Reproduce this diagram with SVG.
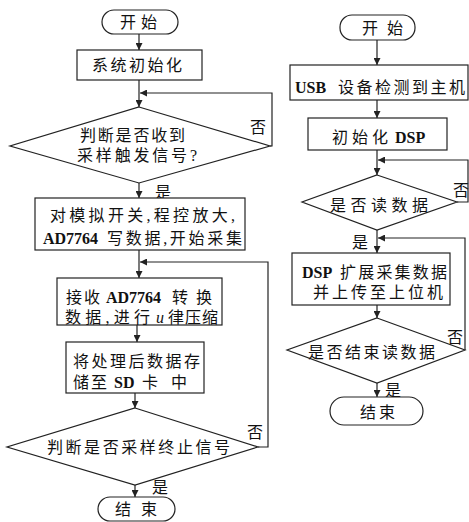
<svg xmlns="http://www.w3.org/2000/svg" width="469" height="522" viewBox="0 0 469 522">
<style>
.n{fill:#fff;stroke:#222;stroke-width:1.2}
.c{fill:none;stroke:#222;stroke-width:1.2}
text{font-family:"Liberation Serif","Noto Sans CJK SC",serif;font-size:16px;fill:#111}
.b{font-weight:bold}
.m{text-anchor:middle}
</style>
<defs>
<marker id="ah" viewBox="0 0 8 8" refX="8" refY="4" markerWidth="7" markerHeight="7" markerUnits="userSpaceOnUse" orient="auto">
<path d="M0,0 L8,4 L0,8 Z" fill="#222"/>
</marker>
</defs>
<rect width="469" height="522" fill="#fff"/>
<g id="connectors">
<line class="c" x1="139" y1="34" x2="139" y2="50" marker-end="url(#ah)"/>
<line class="c" x1="139" y1="80" x2="139" y2="107" marker-end="url(#ah)"/>
<path class="c" d="M270,146 H272 V93 H140" marker-end="url(#ah)"/>
<line class="c" x1="139" y1="183" x2="139" y2="198" marker-end="url(#ah)"/>
<line class="c" x1="139" y1="250" x2="139" y2="278" marker-end="url(#ah)"/>
<path class="c" d="M258,447 H268 V262 H140" marker-end="url(#ah)"/>
<line class="c" x1="137" y1="325" x2="137" y2="342" marker-end="url(#ah)"/>
<line class="c" x1="135" y1="393" x2="135" y2="408" marker-end="url(#ah)"/>
<line class="c" x1="135" y1="485" x2="135" y2="497" marker-end="url(#ah)"/>
<line class="c" x1="377" y1="40" x2="377" y2="65" marker-end="url(#ah)"/>
<line class="c" x1="377" y1="100" x2="377" y2="118" marker-end="url(#ah)"/>
<line class="c" x1="377" y1="150" x2="377" y2="175" marker-end="url(#ah)"/>
<path class="c" d="M457,202 H468 V160 H378" marker-end="url(#ah)"/>
<line class="c" x1="377" y1="230" x2="377" y2="253" marker-end="url(#ah)"/>
<path class="c" d="M465,350 V238 H378" marker-end="url(#ah)"/>
<line class="c" x1="377" y1="305" x2="377" y2="318" marker-end="url(#ah)"/>
<line class="c" x1="377" y1="383" x2="377" y2="397" marker-end="url(#ah)"/>
<text x="258" y="133" class="m">否</text>
<text x="163" y="198" class="m">是</text>
<text x="255" y="438" class="m">否</text>
<text x="160" y="493" class="m">是</text>
<text x="461" y="196" class="m">否</text>
<text x="360" y="248" class="m">是</text>
<text x="455" y="343" class="m">否</text>
<text x="393" y="396" class="m">是</text>
</g>
<g id="start1">
<rect class="n" x="102" y="10" width="76" height="24" rx="12"/>
<text x="120" y="28" textLength="37" lengthAdjust="spacing">开始</text>
</g>
<g id="init1">
<rect class="n" x="77" y="50" width="125" height="30"/>
<text x="92" y="71" textLength="90" lengthAdjust="spacing">系统初始化</text>
</g>
<g id="trigger">
<polygon class="n" points="139,107 270,146 139,183 10,146"/>
<text x="80" y="141" textLength="105" lengthAdjust="spacing">判断是否收到</text>
<text x="77" y="161" textLength="120" lengthAdjust="spacing">采样触发信号?</text>
</g>
<g id="setup">
<rect class="n" x="35" y="198" width="210" height="52"/>
<text x="50" y="221" textLength="185" lengthAdjust="spacing">对模拟开关,程控放大,</text>
<text x="43" y="244" class="b">AD7764</text>
<text x="107" y="244" textLength="135" lengthAdjust="spacing">写数据,开始采集</text>
</g>
<g id="receive">
<rect class="n" x="57" y="278" width="165" height="47"/>
<text x="66" y="303" textLength="34" lengthAdjust="spacing">接收</text>
<text x="106" y="303" class="b">AD7764</text>
<text x="172" y="303" textLength="40" lengthAdjust="spacing">转换</text>
<text x="65" y="323" textLength="85" lengthAdjust="spacing">数据,进行</text>
<text x="156" y="323" font-style="italic">u</text>
<text x="168" y="323" textLength="50" lengthAdjust="spacing">律压缩</text>
</g>
<g id="store">
<rect class="n" x="66" y="342" width="138" height="51"/>
<text x="73" y="367" textLength="127" lengthAdjust="spacing">将处理后数据存</text>
<text x="73" y="388" textLength="34" lengthAdjust="spacing">储至</text>
<text x="114" y="388" class="b">SD</text>
<text x="142" y="388" textLength="45" lengthAdjust="spacing">卡中</text>
</g>
<g id="stopcheck">
<polygon class="n" points="135,408 258,447 135,485 7,447"/>
<text x="47" y="453" textLength="183" lengthAdjust="spacing">判断是否采样终止信号</text>
</g>
<g id="end1">
<rect class="n" x="98" y="497" width="77" height="24" rx="12"/>
<text x="115" y="515" textLength="42" lengthAdjust="spacing">结束</text>
</g>
<g id="start2">
<rect class="n" x="340" y="15" width="75" height="25" rx="12"/>
<text x="362" y="34" textLength="41" lengthAdjust="spacing">开始</text>
</g>
<g id="usb">
<rect class="n" x="290" y="65" width="178" height="35"/>
<text x="295" y="93" class="b">USB</text>
<text x="338" y="93" textLength="127" lengthAdjust="spacing">设备检测到主机</text>
</g>
<g id="initdsp">
<rect class="n" x="308" y="118" width="139" height="32"/>
<text x="332" y="143" textLength="56" lengthAdjust="spacing">初始化</text>
<text x="395" y="143" class="b">DSP</text>
</g>
<g id="readcheck">
<polygon class="n" points="377,175 457,202 377,230 302,202"/>
<text x="330" y="211" textLength="98" lengthAdjust="spacing">是否读数据</text>
</g>
<g id="dspacq">
<rect class="n" x="292" y="253" width="158" height="52"/>
<text x="302" y="278" class="b">DSP</text>
<text x="340" y="278" textLength="107" lengthAdjust="spacing">扩展采集数据</text>
<text x="313" y="298" textLength="130" lengthAdjust="spacing">并上传至上位机</text>
</g>
<g id="endcheck">
<polygon class="n" points="377,318 465,350 377,383 287,350"/>
<text x="308" y="358" textLength="127" lengthAdjust="spacing">是否结束读数据</text>
</g>
<g id="end2">
<rect class="n" x="330" y="397" width="93" height="28" rx="14"/>
<text x="360" y="418" textLength="35" lengthAdjust="spacing">结束</text>
</g>
</svg>
